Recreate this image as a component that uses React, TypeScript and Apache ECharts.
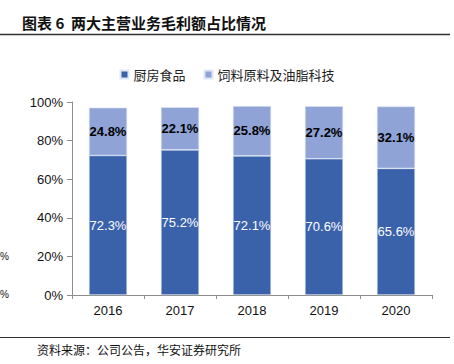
import React, { useEffect, useRef } from "react";
import * as echarts from "echarts";

const categories = ["2016", "2017", "2018", "2019", "2020"];
const kitchenFood = [72.3, 75.2, 72.1, 70.6, 65.6];
const feedTech = [24.8, 22.1, 25.8, 27.2, 32.1];
const seriesNames = ["厨房食品", "饲料原料及油脂科技"];
const titleText = "图表 6  两大主营业务毛利额占比情况";
const sourceText = "资料来源：公司公告，华安证券研究所";

export default function App() {
  const ref = useRef<HTMLDivElement>(null);
  useEffect(() => {
    const chart = echarts.init(ref.current!, null, { renderer: "svg" });
    const font = "Liberation Sans, Arial, sans-serif";
    chart.setOption({
      animation: false,
      backgroundColor: "#ffffff",
      grid: { left: 72, right: 22, top: 102, bottom: 69 },
      legend: {
        data: seriesNames,
        top: 63,
        left: "center",
        itemWidth: 8,
        itemHeight: 8,
        itemGap: 18,
        icon: "rect",
        textStyle: { fontSize: 13, color: "#222", fontFamily: "Noto Sans CJK SC" },
      },
      xAxis: {
        type: "category",
        data: categories,
        axisLine: { lineStyle: { color: "#8c8c8c", width: 1 } },
        axisTick: { show: true, length: 4, lineStyle: { color: "#8c8c8c" } },
        axisLabel: { fontSize: 13, color: "#111", margin: 9, fontFamily: font },
      },
      yAxis: {
        type: "value",
        min: 0,
        max: 100,
        interval: 20,
        axisLine: { show: true, lineStyle: { color: "#8c8c8c", width: 1 } },
        axisTick: { show: true, length: 5, lineStyle: { color: "#8c8c8c" } },
        splitLine: { show: false },
        axisLabel: { fontSize: 13, color: "#111", margin: 9, fontFamily: font, formatter: "{value}%" },
      },
      series: [
        {
          name: seriesNames[0],
          type: "bar",
          stack: "total",
          data: kitchenFood,
          barWidth: "53%",
          itemStyle: { color: "#3A62AB", borderColor: "#dfe6f4", borderWidth: 0.6 },
          label: {
            show: true,
            position: "inside",
            formatter: "{c}%",
            color: "#ffffff",
            fontSize: 13,
            fontFamily: font,
          },
        },
        {
          name: seriesNames[1],
          type: "bar",
          stack: "total",
          data: feedTech,
          barWidth: "53%",
          itemStyle: { color: "#8FA3D6", borderColor: "#dfe6f4", borderWidth: 0.6 },
          label: {
            show: true,
            position: "inside",
            formatter: "{c}%",
            color: "#000000",
            fontSize: 13,
            fontWeight: "bold",
            fontFamily: font,
          },
        },
      ],
      graphic: [
        {
          type: "text",
          left: 22,
          top: 15,
          style: { text: titleText, fontSize: 15, fontWeight: "bold", fill: "#111", fontFamily: "Noto Sans CJK SC" },
        },
        {
          type: "line",
          shape: { x1: 0, y1: 34.5, x2: 450, y2: 34.5 },
          style: { stroke: "#333", lineWidth: 1.5 },
        },
        {
          type: "line",
          shape: { x1: 0, y1: 337.5, x2: 450, y2: 337.5 },
          style: { stroke: "#333", lineWidth: 1 },
        },
        {
          type: "text",
          left: 37,
          top: 343,
          style: { text: sourceText, fontSize: 12, fill: "#111", fontFamily: "Noto Sans CJK SC" },
        },
        {
          type: "text",
          x: 0,
          y: 251,
          style: { text: "%", fontSize: 10, fill: "#111", fontFamily: font },
        },
        {
          type: "text",
          x: 0,
          y: 289,
          style: { text: "%", fontSize: 10, fill: "#111", fontFamily: font },
        },
      ],
    });
    return () => chart.dispose();
  }, []);
  return <div ref={ref} style={{ width: 454, height: 364, position: "absolute", left: 0, top: 0 }} />;
}
